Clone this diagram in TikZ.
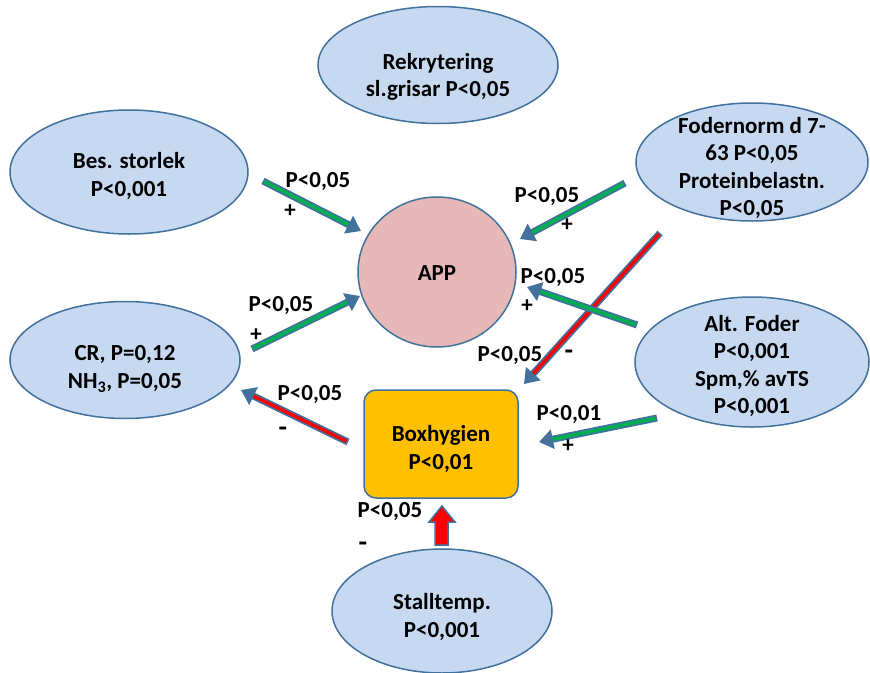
\documentclass[tikz,border=0pt]{standalone}
\usepackage{fontspec}
\setmainfont{Carlito}
\usetikzlibrary{arrows.meta,shapes.geometric}
\definecolor{ellfill}{HTML}{C6D9F1}
\definecolor{bord}{HTML}{41719C}
\definecolor{appfill}{HTML}{E6B9B8}
\definecolor{boxfill}{HTML}{FFC000}
\definecolor{agreen}{HTML}{00B050}
\definecolor{ared}{HTML}{FF0000}
\tikzset{
  txt/.style={font=\bfseries\fontsize{23}{27.5}\selectfont, align=center, inner sep=0pt},
  ell/.style={ellipse, draw=bord, line width=1.5pt, fill=ellfill, inner sep=0pt},
  lbl/.style={txt},
  minus/.style={font=\bfseries\fontsize{28}{30}\selectfont, inner sep=0pt},
  garrow/.style={line width=7pt, draw=bord, -{Triangle[length=14pt,width=19pt]},
    postaction={draw=agreen, line width=3.5pt, -, shorten >=14pt, shorten <=1.5pt}},
  rarrow/.style={line width=7pt, draw=bord, -{Triangle[length=14pt,width=19pt]},
    postaction={draw=ared, line width=3.5pt, -, shorten >=14pt, shorten <=1.5pt}},
}
\begin{document}
\begin{tikzpicture}[x=1pt,y=-1pt]
\useasboundingbox (0,0) rectangle (870,672);
\fill[white] (0,0) rectangle (870,672);
% shapes
\node[ell, minimum width=240pt, minimum height=117pt] (rek) at (438,65) {};
\node[ell, minimum width=238pt, minimum height=124pt] (bes) at (129,172) {};
\node[ell, minimum width=232pt, minimum height=118pt] (fod) at (752,162) {};
\node[ellipse, draw=bord, line width=1.5pt, fill=appfill, inner sep=0pt, minimum width=158pt, minimum height=150pt] (app) at (437,272) {};
\node[ell, minimum width=230pt, minimum height=117pt] (cr) at (125,360) {};
\node[ell, minimum width=234pt, minimum height=130pt] (alt) at (752,362) {};
\node[draw=bord, line width=1.5pt, fill=boxfill, rounded corners=12pt, minimum width=154pt, minimum height=108pt] (box) at (441,444) {};
\node[ell, minimum width=220pt, minimum height=124pt] (sta) at (442,611) {};
% texts
\node[txt] (rekT) at (438,77) {Rekrytering\\sl.grisar P<0,05};
\node[txt] (besT) at (129,176) {Bes. storlek\\P<0,001};
\node[txt] (fodT) at (752,168) {Fodernorm d 7-\\63 P<0,05\\Proteinbelastn.\\P<0,05};
\node[txt] (appT) at (437,273) {APP};
\node[txt] (crT) at (125,369) {CR, P=0,12\\NH\textsubscript{3}, P=0,05};
\node[txt] (altT) at (752,366) {Alt. Foder\\P<0,001\\Spm,\% avTS\\P<0,001};
\node[txt] (boxT) at (441,449) {Boxhygien\\P<0,01};
\node[txt] (staT) at (442,617) {Stalltemp.\\P<0,001};
% arrow end points
\coordinate (a1s) at (263,181); \coordinate (a1e) at (361,231);
\coordinate (a2s) at (625,183); \coordinate (a2e) at (520,239);
\coordinate (a3s) at (637,325); \coordinate (a3e) at (527,287);
\coordinate (a4s) at (252,349); \coordinate (a4e) at (360,296);
\coordinate (a5s) at (660,233); \coordinate (a5e) at (524,384);
\coordinate (a6s) at (348,442); \coordinate (a6e) at (241,390);
\coordinate (a7s) at (657,418); \coordinate (a7e) at (539,442);
% arrows
\draw[rarrow] (a5s) -- (a5e);
\draw[garrow] (a1s) -- (a1e);
\draw[garrow] (a2s) -- (a2e);
\draw[garrow] (a3s) -- (a3e);
\draw[garrow] (a4s) -- (a4e);
\draw[rarrow] (a6s) -- (a6e);
\draw[garrow] (a7s) -- (a7e);
% block arrow up
\draw[draw=bord, line width=1.5pt, fill=ared, line join=miter]
  (435,545) -- (435,522) -- (429,522) -- (442,506) -- (455,522) -- (448,522) -- (448,545) -- cycle;
% labels
\node[lbl] (l1) at (318,182) {P<0,05}; \node[lbl] (p1) at (290,211) {+};
\node[lbl] (l2) at (547,197) {P<0,05}; \node[lbl] (p2) at (567,225) {+};
\node[lbl] (l3) at (553,278) {P<0,05}; \node[lbl] (p3) at (527,306) {+};
\node[lbl] (l4) at (281,306) {P<0,05}; \node[lbl] (p4) at (256,335) {+};
\node[lbl] (l5) at (510,356) {P<0,05}; \node[minus] (m5) at (569,355) {-};
\node[lbl] (l6) at (310,395) {P<0,05}; \node[minus] (m6) at (283,432) {-};
\node[lbl] (l7) at (569,415) {P<0,01}; \node[lbl] (p7) at (568,446) {+};
\node[lbl] (l8) at (390,512) {P<0,05}; \node[minus] (m8) at (363,547) {-};
\end{tikzpicture}
\end{document}
